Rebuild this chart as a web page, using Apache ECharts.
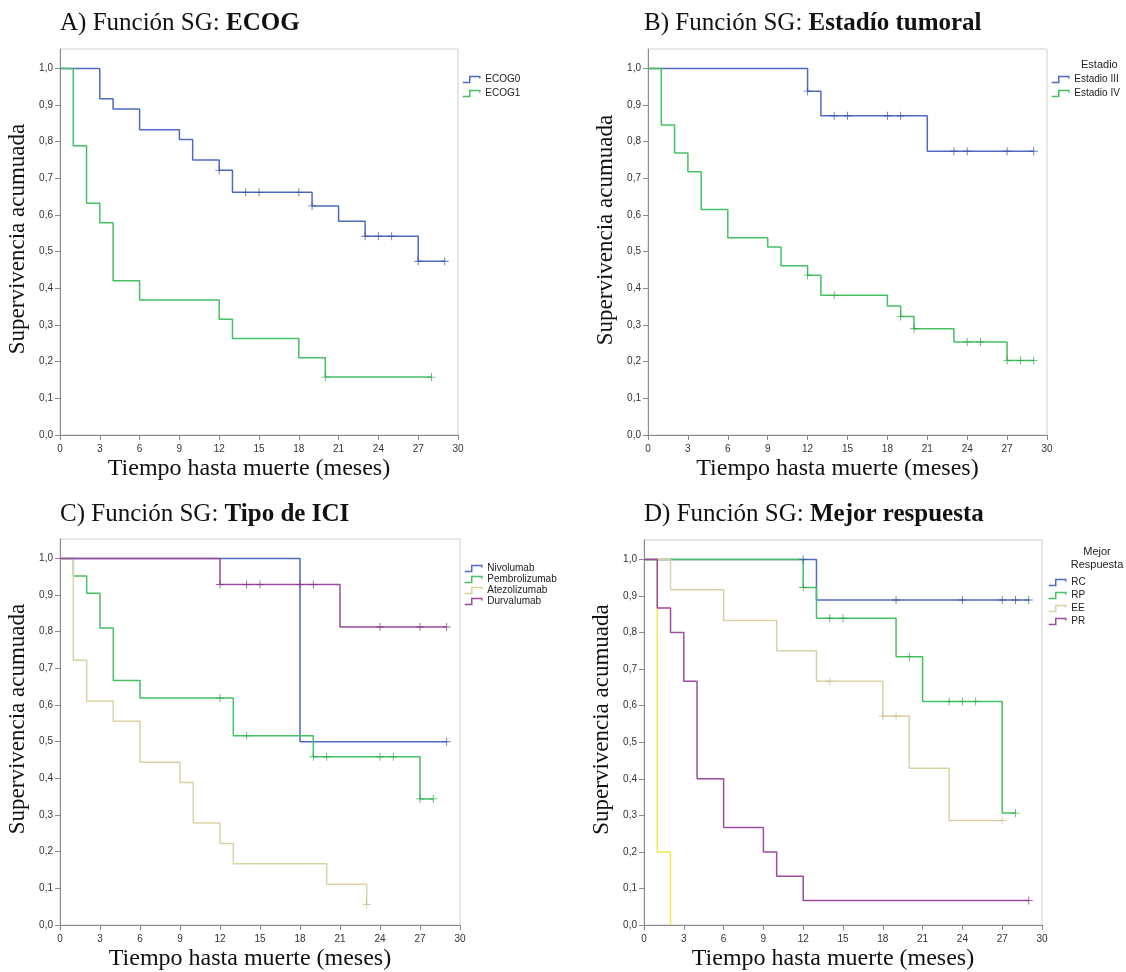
<!DOCTYPE html>
<html>
<head>
<meta charset="utf-8">
<script src="https://cdn.jsdelivr.net/npm/echarts@6/dist/echarts.min.js"></script>
<style>
html,body{margin:0;padding:0;background:#fff;}
#chart{width:1126px;height:972px;}
</style>
</head>
<body>
<div id="chart"></div>
<script>
// ticks
var xTicks = [0,3,6,9,12,15,18,21,24,27,30];
var yTicks = [0,0.1,0.2,0.3,0.4,0.5,0.6,0.7,0.8,0.9,1.0];

// A) ECOG
var ecog0T = [0,3,4,6,9,10,12,13,19,21,23,27,29];
var ecog0S = [1,0.917,0.889,0.833,0.806,0.75,0.722,0.662,0.625,0.583,0.542,0.474,0.474];
var ecog0C = [[12,0.722],[14,0.662],[15,0.662],[18,0.662],[19,0.625],[23,0.542],[24,0.542],[25,0.542],[27,0.474],[29,0.474]];
var ecog1T = [0,1,2,3,4,6,12,13,18,20,28];
var ecog1S = [1,0.789,0.632,0.579,0.421,0.368,0.316,0.263,0.211,0.158,0.158];
var ecog1C = [[20,0.158],[28,0.158]];

// B) Estadio
var est3T = [0,12,13,21,29];
var est3S = [1,0.938,0.871,0.774,0.774];
var est3C = [[12,0.938],[14,0.871],[15,0.871],[18,0.871],[19,0.871],[23,0.774],[24,0.774],[27,0.774],[29,0.774]];
var est4T = [0,1,2,3,4,6,9,10,12,13,18,19,20,23,27,29];
var est4S = [1,0.846,0.769,0.718,0.615,0.538,0.513,0.462,0.436,0.381,0.352,0.323,0.29,0.254,0.203,0.203];
var est4C = [[12,0.436],[14,0.381],[19,0.323],[20,0.29],[24,0.254],[25,0.254],[27,0.203],[28,0.203],[29,0.203]];

// C) Tipo de ICI
var nivoT = [0,18,29];
var nivoS = [1,0.5,0.5];
var nivoC = [[29,0.5]];
var pembT = [0,1,2,3,4,6,13,19,27,28];
var pembS = [1,0.952,0.905,0.81,0.667,0.619,0.516,0.459,0.344,0.344];
var pembC = [[12,0.619],[14,0.516],[19,0.459],[20,0.459],[24,0.459],[25,0.459],[27,0.344],[28,0.344]];
var atezT = [0,1,2,4,6,9,10,12,13,20,23];
var atezS = [1,0.722,0.611,0.556,0.444,0.389,0.278,0.222,0.167,0.111,0.056];
var atezC = [[23,0.056]];
var durvT = [0,12,21,29];
var durvS = [1,0.929,0.813,0.813];
var durvC = [[12,0.929],[14,0.929],[15,0.929],[18,0.929],[19,0.929],[24,0.813],[27,0.813],[29,0.813]];

// D) Mejor respuesta
var rcT = [0,13,29];
var rcS = [1,0.889,0.889];
var rcC = [[12,1],[19,0.889],[24,0.889],[27,0.889],[28,0.889],[29,0.889]];
var rpT = [0,12,13,19,21,27,28];
var rpS = [1,0.923,0.839,0.734,0.611,0.306,0.306];
var rpC = [[12,0.923],[14,0.839],[15,0.839],[20,0.734],[23,0.611],[24,0.611],[25,0.611],[28,0.306]];
var eeT = [0,2,6,10,13,18,20,23,27];
var eeS = [1,0.917,0.833,0.75,0.667,0.571,0.429,0.286,0.286];
var eeC = [[14,0.667],[18,0.571],[19,0.571],[27,0.286]];
var prT = [0,1,2,3,4,6,9,10,12,29];
var prS = [1,0.867,0.8,0.667,0.4,0.267,0.2,0.133,0.067,0.067];
var prC = [[29,0.067]];
var otroT = [0,1,2];
var otroS = [1,0.2,0];

var BLUE = '#5069c2', BLUE_D = '#3650a6';
var GREEN = '#45c064', GREEN_D = '#2ea24c';
var BEIGE = '#d9d2a4', BEIGE_D = '#c9bf8c';
var PURPLE = '#9c4b9f', PURPLE_D = '#87358b';
var YELLOW = '#f3e852';

var stepIcon = 'path://M0,6 L7,6 L7,0 L17,0 L17,2';
var plusIcon = 'path://M4,0 L5,0 L5,4 L9,4 L9,5 L5,5 L5,9 L4,9 L4,5 L0,5 L0,4 L4,4 Z';

var grids = [
  {left:60, top:49, width:398, height:386},
  {left:648, top:49, width:399, height:386},
  {left:60, top:539, width:400, height:389},
  {left:644, top:540, width:398, height:388}
];
// shift of the rotated y name (local padding-left, moves it up)
var yNameShift = [6, 24, 26, 26];

function fmt(v){ return v.toFixed(1).replace('.', ','); }

var series = [];
function curve(name, t, s, color, g){
  series.push({
    name: name, type: 'line', step: 'end', xAxisIndex: g, yAxisIndex: g,
    showSymbol: false, symbol: 'none', silent: true,
    lineStyle: {color: color, width: 1.5}, itemStyle: {color: color},
    data: t.map(function(x, i){ return [x, s[i]]; })
  });
}
function censor(name, c, color, g){
  series.push({
    name: name + '_c', type: 'scatter', xAxisIndex: g, yAxisIndex: g, silent: true,
    symbol: plusIcon, symbolSize: 8, itemStyle: {color: color}, z: 3,
    data: c
  });
}

curve('ECOG0', ecog0T, ecog0S, BLUE, 0); censor('ECOG0', ecog0C, BLUE_D, 0);
curve('ECOG1', ecog1T, ecog1S, GREEN, 0); censor('ECOG1', ecog1C, GREEN_D, 0);
curve('Estadio III', est3T, est3S, BLUE, 1); censor('Estadio III', est3C, BLUE_D, 1);
curve('Estadio IV', est4T, est4S, GREEN, 1); censor('Estadio IV', est4C, GREEN_D, 1);
curve('Nivolumab', nivoT, nivoS, BLUE, 2); censor('Nivolumab', nivoC, BLUE_D, 2);
curve('Pembrolizumab', pembT, pembS, GREEN, 2); censor('Pembrolizumab', pembC, GREEN_D, 2);
curve('Atezolizumab', atezT, atezS, BEIGE, 2); censor('Atezolizumab', atezC, BEIGE_D, 2);
curve('Durvalumab', durvT, durvS, PURPLE, 2); censor('Durvalumab', durvC, PURPLE_D, 2);
curve('Otro', otroT, otroS, YELLOW, 3);
curve('RC', rcT, rcS, BLUE, 3); censor('RC', rcC, BLUE_D, 3);
curve('RP', rpT, rpS, GREEN, 3); censor('RP', rpC, GREEN_D, 3);
curve('EE', eeT, eeS, BEIGE, 3); censor('EE', eeC, BEIGE_D, 3);
curve('PR', prT, prS, PURPLE, 3); censor('PR', prC, PURPLE_D, 3);

var xAxes = [], yAxes = [];
grids.forEach(function(gr, i){
  xAxes.push({
    type: 'value', gridIndex: i, min: 0, max: 30, interval: 3,
    name: 'Tiempo hasta muerte (meses)', nameLocation: 'middle', nameGap: 22,
    nameTextStyle: {fontFamily: 'Liberation Serif', fontSize: 24, color: '#111', padding: [0, 20, 0, 0]},
    axisLine: {lineStyle: {color: '#8a8a8a', width: 1}},
    axisTick: {length: 5, lineStyle: {color: '#8a8a8a'}, customValues: xTicks},
    axisLabel: {fontFamily: 'Liberation Sans', fontSize: 10, color: '#333', margin: 9, customValues: xTicks},
    splitLine: {show: false}
  });
  yAxes.push({
    type: 'value', gridIndex: i, min: 0, max: 1.053,
    name: 'Supervivencia acumuada', nameLocation: 'middle', nameGap: 31, nameRotate: 90,
    nameTextStyle: {fontFamily: 'Liberation Serif', fontSize: 23, color: '#111', padding: [0, 0, 0, yNameShift[i]]},
    axisLine: {lineStyle: {color: '#8a8a8a', width: 1}},
    axisTick: {length: 5, lineStyle: {color: '#8a8a8a'}, customValues: yTicks},
    axisLabel: {fontFamily: 'Liberation Sans', fontSize: 10, color: '#333', margin: 7, formatter: fmt, customValues: yTicks},
    splitLine: {show: false}
  });
});

function legendData(names, colors){
  return names.map(function(n, i){
    return {name: n, icon: stepIcon, itemStyle: {color: 'transparent', borderColor: colors[i], borderWidth: 1.5, opacity: 1}};
  });
}
var legendText = {fontFamily: 'Liberation Sans', fontSize: 10, color: '#222', lineHeight: 11};

var titleRich = {b: {fontFamily: 'Liberation Serif', fontSize: 25, fontWeight: 'bold', color: '#111'}};
function panelTitle(text, left, top){
  return {text: text, left: left, top: top,
    textStyle: {fontFamily: 'Liberation Serif', fontSize: 25, fontWeight: 'normal', color: '#111', rich: titleRich}};
}

var option = {
  animation: false,
  backgroundColor: '#fff',
  title: [
    panelTitle('A) Función SG: {b|ECOG}', 55, 6),
    panelTitle('B) Función SG: {b|Estadío tumoral}', 639, 6),
    panelTitle('C) Función SG: {b|Tipo de ICI}', 55, 497),
    panelTitle('D) Función SG: {b|Mejor respuesta}', 639, 497),
    {text: 'Estadio', left: 1076, top: 54, textStyle: {fontFamily: 'Liberation Sans', fontSize: 11, fontWeight: 'normal', color: '#222'}},
    {text: 'Mejor\nRespuesta', left: 1092, top: 540, textAlign: 'center',
      textStyle: {fontFamily: 'Liberation Sans', fontSize: 11, fontWeight: 'normal', color: '#222', lineHeight: 13, align: 'center'}}
  ],
  grid: grids.map(function(g){ return {left: g.left, top: g.top, width: g.width, height: g.height, show: true, borderColor: '#cfcfcf', borderWidth: 1, backgroundColor: '#fff'}; }),
  xAxis: xAxes,
  yAxis: yAxes,
  legend: [
    {left: 462, top: 74, orient: 'vertical', itemWidth: 18, itemHeight: 6, itemGap: 3, textStyle: legendText, padding: 0, selectedMode: false,
      data: legendData(['ECOG0','ECOG1'], [BLUE, GREEN])},
    {left: 1051, top: 74, orient: 'vertical', itemWidth: 18, itemHeight: 6, itemGap: 3, textStyle: legendText, padding: 0, selectedMode: false,
      data: legendData(['Estadio III','Estadio IV'], [BLUE, GREEN])},
    {left: 464, top: 563, orient: 'vertical', itemWidth: 18, itemHeight: 6, itemGap: 0, textStyle: legendText, padding: 0, selectedMode: false,
      data: legendData(['Nivolumab','Pembrolizumab','Atezolizumab','Durvalumab'], [BLUE, GREEN, BEIGE, PURPLE])},
    {left: 1048, top: 577, orient: 'vertical', itemWidth: 18, itemHeight: 6, itemGap: 2, textStyle: legendText, padding: 0, selectedMode: false,
      data: legendData(['RC','RP','EE','PR'], [BLUE, GREEN, BEIGE, PURPLE])}
  ],
  series: series
};

var chart = echarts.init(document.getElementById('chart'), null, {renderer: 'canvas'});
chart.setOption(option);
</script>
</body>
</html>
